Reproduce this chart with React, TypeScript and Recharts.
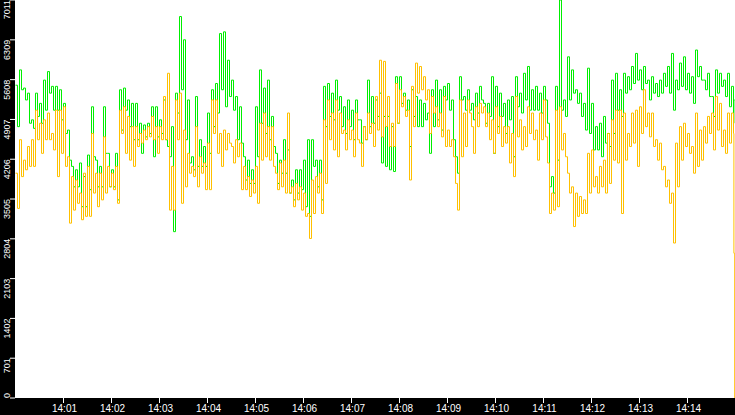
import React from 'react';
import { LineChart, Line, XAxis, YAxis, CartesianGrid } from 'recharts';

// minute labels along the bottom, one per minute after 14:00
const timeLabels = ['14:01', '14:02', '14:03', '14:04', '14:05', '14:06', '14:07', '14:08', '14:09', '14:10', '14:11', '14:12', '14:13', '14:14'];
const yTicks = [0, 701, 1402, 2103, 2804, 3505, 4206, 4907, 5608, 6309, 7011];

// each 5 s bucket has a high and a low reading
const greenHigh = [
  5510, 5780, 5460, 5370, 4900, 5370, 5190, 5600, 5750, 5490, 5490, 5430, 5190, 4720, 4080,
  4020, 4140, 3900, 4280, 5130, 4190, 4080, 5130, 4310, 4020, 4310, 5430, 5460, 5250, 5190,
  5190, 4840, 4810, 4840, 5130, 5130, 4900, 5250, 4430, 4780, 5370, 6720, 6310, 5250, 4250,
  5310, 4550, 4430, 5020, 5430, 5540, 6420, 6450, 5950, 5600, 5310, 5130, 4250, 4190, 4020,
  5130, 5780, 5460, 5600, 4960, 4310, 4190, 4550, 4370, 3840, 4020, 4020, 4190, 4550, 4550,
  4190, 4190, 5490, 5540, 5370, 5600, 5310, 5130, 5250, 5070, 5250, 4900, 4780, 5600, 5310,
  5250, 5370, 4960, 4960, 4780, 5660, 5660, 5370, 5250, 5430, 5310, 5250, 5190, 5020, 5430,
  5600, 5430, 5490, 5540, 5250, 4250, 5660, 5310, 5430, 5190, 5370, 5490, 5190, 5190, 5660,
  5490, 5370, 5190, 5250, 5310, 5660, 5370, 5720, 5840, 5430, 5490, 5370, 5490, 4840, 3900,
  5490, 7011, 5250, 6010, 5780, 5430, 5370, 5190, 5810, 5190, 4780, 4840, 4960, 4660, 5600,
  5720, 5430, 5720, 5660, 5840, 6070, 5780, 5840, 5600, 5660, 5540, 5600, 5720, 5840, 6070,
  5600, 5900, 6010, 5720, 5660, 6130, 5840, 5600, 5720, 5310, 5780, 5720, 5600, 5720, 5490,
];
const greenLow = [
  4780, 5430, 5250, 4840, 4750, 4960, 4840, 5070, 5370, 5070, 5070, 4900, 4660, 4190, 3720,
  3720, 3370, 3370, 3670, 4250, 3720, 3720, 4310, 3720, 3720, 3490, 4720, 5070, 4780, 4550,
  4550, 4310, 4600, 4660, 4250, 4600, 4660, 4550, 4250, 2930, 5020, 5430, 4550, 4140, 4020,
  4080, 4080, 4080, 4310, 4780, 5020, 5430, 5130, 5310, 5070, 4550, 4490, 3840, 3780, 3780,
  4250, 4840, 4660, 4550, 4430, 3780, 3960, 3960, 3610, 3490, 3610, 3670, 3370, 3200, 4080,
  3720, 3490, 4780, 4960, 4900, 5070, 4780, 4660, 4780, 4550, 4900, 4490, 4550, 4780, 4840,
  4960, 4140, 4080, 4020, 3990, 4840, 5190, 5070, 4430, 4960, 4780, 4780, 4900, 4310, 4780,
  4900, 4720, 5250, 5070, 4550, 3960, 5250, 5070, 5070, 4900, 5020, 5250, 4840, 4960, 4310,
  4780, 4960, 4660, 4900, 4250, 5130, 5020, 5250, 5070, 5070, 5070, 5020, 5250, 3720, 3610,
  4190, 5070, 4960, 5250, 5370, 5190, 4960, 4720, 4660, 4370, 4370, 4250, 4490, 4430, 4660,
  5070, 4960, 5370, 5430, 5540, 5600, 5430, 5540, 5250, 5370, 5310, 5370, 5490, 5370, 5070,
  5430, 5490, 5430, 5370, 5190, 5660, 5600, 5430, 5310, 4960, 5370, 5490, 5310, 5130, 4840,
];
const orangeHigh = [
  3960, 4550, 4190, 4430, 4550, 5070, 4840, 4900, 5020, 4660, 5070, 5070, 5130, 4250, 3900,
  3840, 3610, 3960, 4080, 4660, 3960, 3960, 4600, 4080, 3960, 4080, 5070, 5130, 4960, 4780,
  4780, 4660, 4720, 4780, 4960, 4780, 4780, 5310, 5720, 4080, 5250, 5370, 4720, 4310, 4080,
  4780, 4250, 4140, 4490, 5250, 5250, 4660, 4720, 4660, 4430, 4550, 4490, 4080, 3900, 3840,
  4080, 4840, 5020, 4780, 4780, 3960, 4140, 4190, 5020, 3720, 3780, 3720, 3610, 3250, 3840,
  3900, 3960, 4900, 5250, 5020, 5250, 5020, 4720, 4900, 4720, 5020, 4490, 4780, 5020, 4840,
  5310, 5950, 5930, 5310, 4840, 5540, 5430, 5310, 5070, 5490, 5900, 5840, 5660, 5430, 5310,
  5130, 5020, 5310, 4720, 4550, 3780, 5250, 5020, 5250, 4780, 5130, 5190, 5130, 5020, 4900,
  5130, 4960, 4780, 4780, 4660, 5310, 4900, 4780, 5130, 5020, 4720, 5020, 5250, 4140, 3610,
  5070, 5130, 4660, 3960, 3720, 3610, 3550, 3490, 4310, 4370, 3900, 4080, 4190, 4660, 4900,
  5070, 5070, 5020, 4660, 5020, 5070, 5130, 5430, 5020, 5020, 4550, 4490, 4080, 3840, 3610,
  4490, 4780, 4840, 4660, 4430, 5020, 4720, 4780, 4960, 5020, 5310, 5190, 4720, 5020, 5020,
];
const orangeLow = [
  3340, 3900, 4020, 4080, 4080, 4550, 4310, 4550, 4550, 4370, 3900, 4310, 4080, 3080, 3310,
  3430, 3140, 3200, 3200, 3610, 3370, 3490, 3610, 3720, 3670, 3430, 4660, 4310, 4190, 4080,
  4430, 4490, 4550, 4600, 4550, 4310, 4550, 4550, 3310, 3310, 4550, 3430, 3720, 3960, 3900,
  3720, 3960, 3670, 3670, 4660, 4310, 4080, 4370, 4490, 4140, 4250, 3670, 3670, 3550, 3610,
  3430, 4190, 4250, 4190, 4080, 3670, 3720, 3610, 3610, 3370, 3490, 3310, 3200, 2810, 3250,
  3610, 3250, 3780, 4550, 4370, 4250, 4660, 4370, 4550, 4250, 4550, 4080, 4550, 4660, 4430,
  4720, 4600, 4780, 4430, 4430, 4840, 5130, 4960, 3840, 4780, 5370, 5430, 5250, 4660, 5020,
  4780, 4600, 4430, 4430, 4250, 3310, 4250, 4430, 5020, 4310, 4780, 5020, 4780, 4550, 4310,
  4660, 4430, 4490, 4140, 3900, 4600, 4370, 4430, 4660, 4550, 4190, 4550, 4600, 3250, 3310,
  3370, 4370, 4250, 3610, 3020, 3200, 3250, 3250, 3610, 3720, 3610, 3720, 3610, 3780, 4190,
  4140, 3250, 4190, 4430, 4490, 4080, 4660, 4780, 4600, 4430, 4190, 4020, 3720, 3430, 2730,
  3720, 4190, 4430, 4310, 3960, 4080, 4190, 4490, 4660, 4370, 4720, 4430, 4310, 4490, 4660,
];
// last readings right before the end of the window
const tailTimes = [898, 899];
const tailGreen = [5250, 5250];
const tailOrange = [2550, 0];

const STEP = 5;

const data: { t: number; green: number; orange: number }[] = [];
greenHigh.forEach((g, i) => {
  data.push({ t: i * STEP, green: g, orange: orangeHigh[i] });
  data.push({ t: i * STEP + STEP / 2, green: greenLow[i], orange: orangeLow[i] });
});
tailTimes.forEach((t, k) => data.push({ t, green: tailGreen[k], orange: tailOrange[k] }));

const xTicks = timeLabels.map((_, i) => (i + 1) * 60);
const font = "'Liberation Sans', Arial, sans-serif";

const XTick = (props: any) => {
  const { x, payload } = props;
  return (
    <text x={x + 1} y={412} fill="#fff" fontSize={10} fontFamily={font} textAnchor="middle">
      {timeLabels[Math.round(payload.value / 60) - 1]}
    </text>
  );
};

const YTick = (props: any) => {
  const { y, payload } = props;
  const anchor = payload.value === 0 ? 'start' : 'end';
  return (
    <text
      x={10}
      y={y}
      fill="#fff"
      fontSize={9}
      fontFamily={font}
      textAnchor={anchor}
      transform={`rotate(-90, 10, ${y})`}
    >
      {payload.value}
    </text>
  );
};

export default function App() {
  return (
    <div style={{ width: 735, height: 415, background: '#000' }}>
      <style>{`body{margin:0}`}</style>
      <LineChart width={735} height={415} data={data} margin={{ top: 0, right: 0, bottom: 0, left: 0 }}>
        <CartesianGrid fill="#fff" horizontal={false} vertical={false} />
        <XAxis
          dataKey="t"
          type="number"
          domain={[-0.625, 899.375]}
          allowDataOverflow
          ticks={xTicks}
          interval={0}
          height={17}
          axisLine={false}
          tickLine={{ stroke: '#fff' }}
          tickSize={5}
          tick={<XTick />}
        />
        <YAxis
          type="number"
          domain={[0, 7011]}
          ticks={yTicks}
          interval={0}
          width={15}
          axisLine={false}
          tickLine={{ stroke: '#fff' }}
          tickSize={5}
          tick={<YTick />}
        />
        <Line
          type="stepAfter"
          dataKey="green"
          stroke="#00ee00"
          strokeWidth={1}
          dot={false}
          activeDot={false}
          isAnimationActive={false}
        />
        <Line
          type="stepAfter"
          dataKey="orange"
          stroke="#ffc000"
          strokeWidth={1}
          dot={false}
          activeDot={false}
          isAnimationActive={false}
        />
      </LineChart>
    </div>
  );
}
